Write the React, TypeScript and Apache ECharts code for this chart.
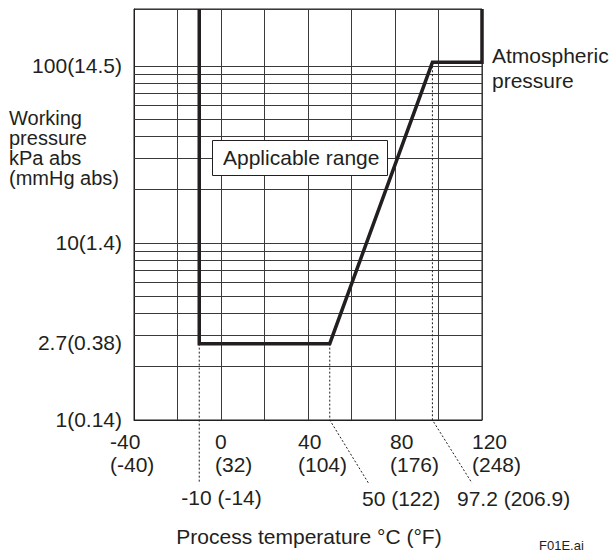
import React, { useEffect, useRef } from 'react';
import * as echarts from 'echarts';

// ---- data ----
const xMin = -40;
const xMax = 120;
const xStep = 20;
const yMin = 1;
const yMax = 210;

const xTickValues = [-40, 0, 40, 80, 120];
const xTickCelsius = ['-40', '0', '40', '80', '120'];
const xTickFahrenheit = ['(-40)', '(32)', '(104)', '(176)', '(248)'];

const yTickValues = [100, 10, 2.7, 1];
const yTickLabels = ['100(14.5)', '10(1.4)', '2.7(0.38)', '1(0.14)'];

const yGridValues = [2, 3, 4, 5, 6, 7, 8, 9, 20, 30, 40, 50, 60, 70, 80, 90];

const rangeTemps = [-10, -10, 50, 97.2, 120, 120];
const rangePressures = [210, 2.7, 2.7, 105, 105, 210];

const leaderTemps = [
  [-10, -10],
  [50, 50, 67.8],
  [97.2, 97.2, 115.4],
];
const leaderPressures = [
  [2.7, 0.446],
  [2.7, 1, 0.44],
  [105, 1, 0.44],
];
const leaderLabels = ['-10 (-14)', '50 (122)', '97.2 (206.9)'];

const yTitleLines = ['Working', 'pressure', 'kPa abs', '(mmHg abs)'];
const atmLines = ['Atmospheric', 'pressure'];

// ---- layout / style ----
const xTickShift = [-24, -6, -10, -5, -10];
const leaderLabelShift = [-18, -6.5, -15];
const INK = '#231f20';
const GRIDC = '#3a3a3a';
const FONT = '"Liberation Sans", Arial, Helvetica, sans-serif';
const FS = 21;

function txt(text: string, x: number, y: number, align: string, size = FS, lineHeight?: number) {
  const style: any = {
    text,
    fill: INK,
    fontSize: size,
    fontFamily: FONT,
    align,
    verticalAlign: 'middle',
  };
  if (lineHeight) style.lineHeight = lineHeight;
  return { type: 'text', x, y, z: 20, silent: true, style };
}

export default function App() {
  const ref = useRef<HTMLDivElement>(null);

  useEffect(() => {
    if (!ref.current) return;
    const chart = echarts.init(ref.current, null, { renderer: 'svg' });

    const series: any[] = [
      {
        type: 'line',
        data: [],
        silent: true,
        z: 1,
        markLine: {
          silent: true,
          z: 1,
          animation: false,
          symbol: ['none', 'none'],
          label: { show: false },
          emphasis: { disabled: true },
          lineStyle: { color: GRIDC, width: 1, type: 'solid' },
          data: yGridValues.map((v) => ({ yAxis: v })),
        },
      },
      {
        type: 'line',
        data: rangeTemps.map((t, i) => [t, rangePressures[i]]),
        symbol: 'none',
        clip: false,
        silent: true,
        z: 5,
        lineStyle: { color: INK, width: 3.5, join: 'miter', cap: 'butt' },
      },
    ];
    leaderTemps.forEach((ts, k) => {
      series.push({
        type: 'line',
        data: ts.map((t, i) => [t, leaderPressures[k][i]]),
        symbol: 'none',
        clip: false,
        silent: true,
        z: 3,
        lineStyle: { color: INK, width: 1, type: [2, 2] },
      });
    });

    chart.setOption({
      animation: false,
      grid: {
        left: 134,
        top: 9,
        width: 348,
        height: 411,
        show: true,
        borderColor: INK,
        borderWidth: 1,
        backgroundColor: 'transparent',
      },
      xAxis: {
        type: 'value',
        min: xMin,
        max: xMax,
        interval: xStep,
        axisLine: { show: true, onZero: false, lineStyle: { color: INK, width: 1 } },
        axisTick: { show: false },
        axisLabel: { show: false },
        splitLine: { show: true, lineStyle: { color: GRIDC, width: 1 } },
      },
      yAxis: {
        type: 'log',
        logBase: 10,
        min: yMin,
        max: yMax,
        axisLine: { show: true, onZero: false, lineStyle: { color: INK, width: 1 } },
        axisTick: { show: false },
        axisLabel: { show: false },
        splitLine: { show: true, lineStyle: { color: GRIDC, width: 1 } },
      },
      series,
    });

    const px = (x: number, y: number) =>
      chart.convertToPixel({ gridIndex: 0 } as any, [x, y]) as number[];

    const elements: any[] = [];
    xTickValues.forEach((v, i) => {
      const p = px(v, yMin);
      elements.push(
        txt(xTickCelsius[i] + '\n' + xTickFahrenheit[i], p[0] + xTickShift[i], p[1] + 32.5, 'left', FS, 23)
      );
    });
    yTickValues.forEach((v, i) => {
      const p = px(xMin, v);
      elements.push(txt(yTickLabels[i], p[0] - 12, p[1] - 1, 'right'));
    });
    leaderTemps.forEach((ts, k) => {
      const n = ts.length - 1;
      const p = px(ts[n], leaderPressures[k][n]);
      elements.push(txt(leaderLabels[k], p[0] + leaderLabelShift[k], p[1] + 15, 'left'));
    });

    // applicable range box
    elements.push({
      type: 'rect',
      z: 15,
      silent: true,
      shape: { x: 212.5, y: 140.5, width: 175, height: 35 },
      style: { fill: '#ffffff', stroke: INK, lineWidth: 1 },
    });
    elements.push(txt('Applicable range', 223, 157, 'left'));

    // axis titles and notes
    elements.push(txt(yTitleLines.join('\n'), 9, 147.5, 'left', 20, 20));
    elements.push(txt(atmLines.join('\n'), 492, 67.5, 'left', FS, 25));
    elements.push(txt('Process temperature °C (°F)', 309, 536, 'center'));
    elements.push(txt('F01E.ai', 539, 545, 'left', 13));

    chart.setOption({ graphic: { elements } });

    return () => {
      chart.dispose();
    };
  }, []);

  return (
    <div
      ref={ref}
      style={{ position: 'fixed', left: 0, top: 0, width: 611, height: 552, background: '#fff' }}
    />
  );
}
